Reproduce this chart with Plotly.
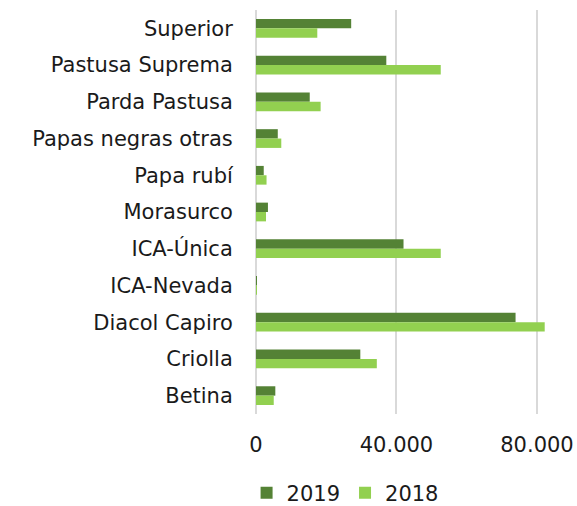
import plotly.graph_objects as go

categories = ["Superior", "Pastusa Suprema", "Parda Pastusa", "Papas negras otras",
              "Papa rubí", "Morasurco", "ICA-Única", "ICA-Nevada", "Diacol Capiro",
              "Criolla", "Betina"]
values_2019 = [27100, 37100, 15300, 6200, 2200, 3400, 42000, 200, 73900, 29700, 5500]
values_2018 = [17450, 52600, 18400, 7200, 3000, 2850, 52600, 150, 82200, 34400, 5050]
tick_vals = [0, 40000, 80000]

FONT = "DejaVu Sans"
PLOT_TOP, PLOT_BOTTOM = 10, 414
FIG_H = 540

fig = go.Figure()
fig.add_trace(go.Bar(y=categories, x=values_2019, name="2019", orientation="h",
                     marker=dict(color="#548235", line=dict(width=0))))
fig.add_trace(go.Bar(y=categories, x=values_2018, name="2018", orientation="h",
                     marker=dict(color="#92D050", line=dict(width=0))))

plot_h = PLOT_BOTTOM - PLOT_TOP
fig.update_layout(
    width=577, height=FIG_H,
    margin=dict(l=256, r=7, t=PLOT_TOP, b=FIG_H - PLOT_BOTTOM, autoexpand=False),
    barmode="group", bargap=0.49, bargroupgap=0,
    plot_bgcolor="white", paper_bgcolor="white",
    separators=",.",
    font=dict(family=FONT, size=21, color="#1a1a1a"),
    showlegend=True,
    legend=dict(orientation="h", x=-0.03, xanchor="left", y=-79 / plot_h, yanchor="middle",
                traceorder="normal", font=dict(size=21), itemwidth=30),
    xaxis=dict(range=[0, 89400], tickvals=tick_vals, tickformat=",d", automargin=False,
               showgrid=True, gridcolor="#d9d9d9", gridwidth=1.5,
               zeroline=True, zerolinecolor="#d9d9d9", zerolinewidth=1.5,
               showline=False, ticks="outside", ticklen=12, tickcolor="rgba(0,0,0,0)",
               tickfont=dict(size=21), fixedrange=True),
    yaxis=dict(autorange="reversed", showgrid=False, showline=False, automargin=False,
               ticks="outside", ticklen=18, tickcolor="rgba(0,0,0,0)",
               tickfont=dict(size=21), fixedrange=True),
)

fig.write_html(
    "out.html",
    config={"displayModeBar": False},
    post_script="document.body.style.margin='0';document.body.style.overflow='hidden';"
                "document.documentElement.style.overflow='hidden';",
)
